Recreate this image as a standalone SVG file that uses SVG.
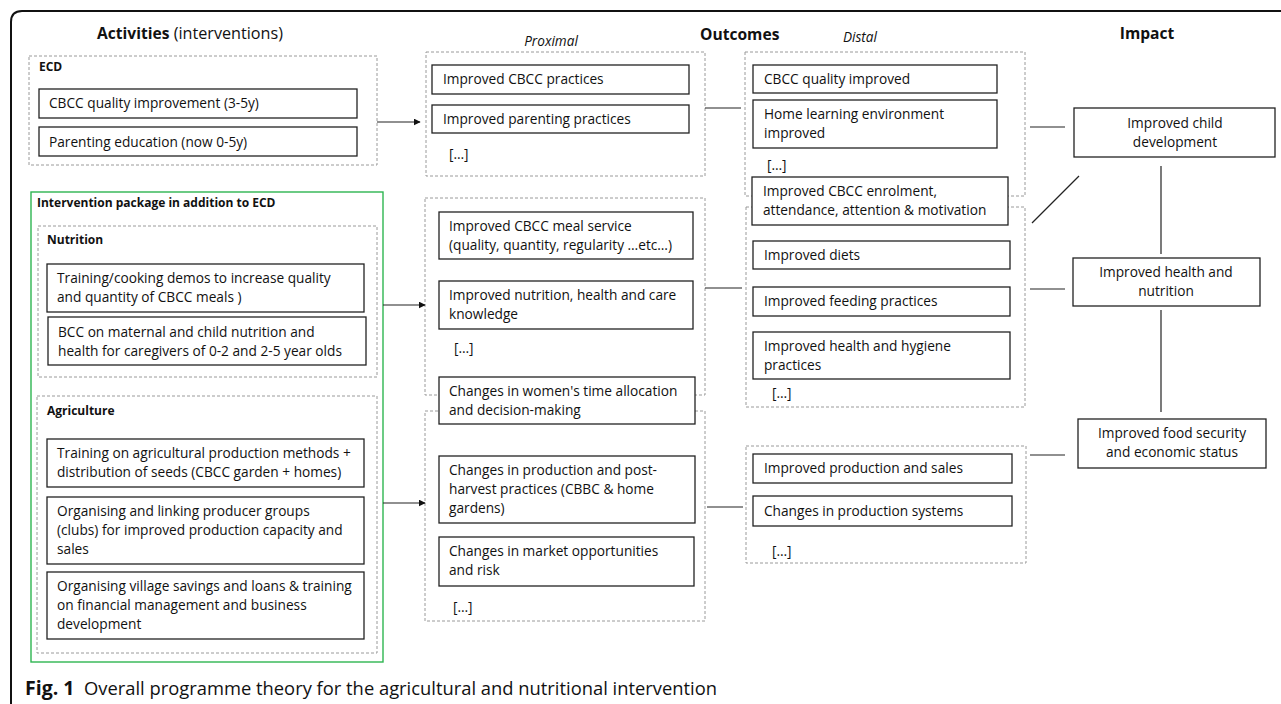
<svg xmlns="http://www.w3.org/2000/svg" width="1281" height="704" viewBox="0 0 1281 704">
<style>
text{font-family:"Open Sans","Liberation Sans",sans-serif;fill:#111}
.t{font-size:13.7px}
.lb{font-size:12px;font-weight:bold}
.hd{font-size:15.6px;font-weight:bold}
.it{font-size:13.6px;font-style:italic}
.box{fill:#fff;stroke:#222;stroke-width:1.3}
.grp{fill:none;stroke:#9a9a9a;stroke-width:1;stroke-dasharray:3 2}
.ln{stroke:#222;stroke-width:1.2;fill:none}
.c{text-anchor:middle}
</style>
<defs>
<marker id="ah" viewBox="0 0 10 10" refX="9" refY="5" markerWidth="7" markerHeight="7" markerUnits="userSpaceOnUse" orient="auto">
<path d="M0,0 L10,5 L0,10 z" fill="#111"/>
</marker>
</defs>
<rect width="1281" height="704" fill="#fff"/>
<path d="M11,704 V22 Q11,11 22,11 H1281" fill="none" stroke="#111" stroke-width="2"/>

<g id="headers">
<text x="97" y="39" class="hd">Activities<tspan font-weight="normal" font-size="16.2px"> (interventions)</tspan></text>
<text x="551" y="46" class="it c">Proximal</text>
<text x="700" y="40" class="hd">Outcomes</text>
<text x="860" y="42" class="it c">Distal</text>
<text x="1147" y="39" class="hd c">Impact</text>
</g>

<g id="ecd">
<rect x="29" y="56" width="348" height="109" class="grp"/>
<text x="39" y="71" class="lb">ECD</text>
<rect x="39" y="89" width="318" height="29" class="box"/>
<text x="49" y="108" class="t">CBCC quality improvement (3-5y)</text>
<rect x="39" y="127" width="318" height="29" class="box"/>
<text x="49" y="147" class="t">Parenting education (now 0-5y)</text>
</g>

<g id="package">
<rect x="31" y="192" width="352" height="470" fill="none" stroke="#2eb551" stroke-width="1.4"/>
<text x="37" y="207" class="lb">Intervention package in addition to ECD</text>
</g>

<g id="nutrition">
<rect x="38" y="226" width="339" height="151" class="grp"/>
<text x="47" y="244" class="lb">Nutrition</text>
<rect x="47" y="264" width="317" height="48" class="box"/>
<text x="57" y="283" class="t">Training/cooking demos to increase quality</text>
<text x="57" y="302" class="t">and quantity of CBCC meals )</text>
<rect x="48" y="317" width="318" height="48" class="box"/>
<text x="58" y="337" class="t">BCC on maternal and child nutrition and</text>
<text x="58" y="356" class="t">health for caregivers of 0-2 and 2-5 year olds</text>
</g>

<g id="agriculture">
<rect x="37" y="396" width="340" height="257" class="grp"/>
<text x="47" y="415" class="lb">Agriculture</text>
<rect x="47" y="439" width="317" height="48" class="box"/>
<text x="57" y="458" class="t">Training on agricultural production methods +</text>
<text x="57" y="477" class="t">distribution of seeds (CBCC garden + homes)</text>
<rect x="47" y="497" width="317" height="67" class="box"/>
<text x="57" y="516" class="t">Organising and linking producer groups</text>
<text x="57" y="535" class="t">(clubs) for improved production capacity and</text>
<text x="57" y="554" class="t">sales</text>
<rect x="47" y="572" width="317" height="67" class="box"/>
<text x="57" y="591" class="t">Organising village savings and loans &amp; training</text>
<text x="57" y="610" class="t">on financial management and business</text>
<text x="57" y="629" class="t">development</text>
</g>

<g id="proximal-ecd">
<rect x="426" y="52" width="279" height="124" class="grp"/>
<rect x="432" y="65" width="257" height="29" class="box"/>
<text x="443" y="84" class="t">Improved CBCC practices</text>
<rect x="432" y="105" width="257" height="28" class="box"/>
<text x="443" y="124" class="t">Improved parenting practices</text>
<text x="449" y="159" class="t">[…]</text>
</g>

<g id="proximal-nutrition">
<rect x="425" y="198" width="280" height="197" class="grp"/>
<rect x="439" y="212" width="254" height="47" class="box"/>
<text x="449" y="231" class="t">Improved CBCC meal service</text>
<text x="449" y="250" class="t">(quality, quantity, regularity …etc…)</text>
<rect x="439" y="281" width="254" height="48" class="box"/>
<text x="449" y="300" class="t">Improved nutrition, health and care</text>
<text x="449" y="319" class="t">knowledge</text>
<text x="454" y="353" class="t">[…]</text>
</g>

<g id="proximal-agriculture">
<rect x="425" y="411" width="280" height="210" class="grp"/>
<rect x="439" y="456" width="256" height="67" class="box"/>
<text x="449" y="475" class="t">Changes in production and post-</text>
<text x="449" y="494" class="t">harvest practices (CBBC &amp; home</text>
<text x="449" y="513" class="t">gardens)</text>
<rect x="439" y="537" width="255" height="49" class="box"/>
<text x="449" y="556" class="t">Changes in market opportunities</text>
<text x="449" y="575" class="t">and risk</text>
<text x="453" y="612" class="t">[…]</text>
</g>

<g id="proximal-women">
<rect x="439" y="377" width="256" height="47" class="box"/>
<text x="449" y="396" class="t">Changes in women's time allocation</text>
<text x="449" y="415" class="t">and decision-making</text>
</g>

<g id="distal-ecd">
<rect x="745" y="52" width="280" height="144" class="grp"/>
<rect x="753" y="65" width="244" height="28" class="box"/>
<text x="764" y="84" class="t">CBCC quality improved</text>
<rect x="753" y="100" width="244" height="48" class="box"/>
<text x="764" y="119" class="t">Home learning environment</text>
<text x="764" y="138" class="t">improved</text>
<text x="767" y="170" class="t">[…]</text>
</g>

<g id="distal-nutrition">
<rect x="746" y="207" width="279" height="200" class="grp"/>
<rect x="753" y="241" width="257" height="28" class="box"/>
<text x="764" y="260" class="t">Improved diets</text>
<rect x="753" y="287" width="257" height="29" class="box"/>
<text x="764" y="306" class="t">Improved feeding practices</text>
<rect x="753" y="332" width="257" height="47" class="box"/>
<text x="764" y="351" class="t">Improved health and hygiene</text>
<text x="764" y="370" class="t">practices</text>
<text x="772" y="398" class="t">[…]</text>
</g>

<g id="distal-enrolment">
<rect x="752" y="177" width="256" height="48" class="box"/>
<text x="763" y="196" class="t">Improved CBCC enrolment,</text>
<text x="763" y="215" class="t">attendance, attention &amp; motivation</text>
</g>

<g id="distal-agriculture">
<rect x="746" y="446" width="280" height="117" class="grp"/>
<rect x="753" y="454" width="259" height="29" class="box"/>
<text x="764" y="473" class="t">Improved production and sales</text>
<rect x="753" y="496" width="259" height="30" class="box"/>
<text x="764" y="516" class="t">Changes in production systems</text>
<text x="772" y="556" class="t">[…]</text>
</g>

<g id="impact-child">
<rect x="1074" y="108" width="201" height="49" class="box"/>
<text x="1175" y="128" class="t c">Improved child</text>
<text x="1175" y="147" class="t c">development</text>
</g>

<g id="impact-health">
<rect x="1073" y="258" width="187" height="48" class="box"/>
<text x="1166" y="277" class="t c">Improved health and</text>
<text x="1166" y="296" class="t c">nutrition</text>
</g>

<g id="impact-food">
<rect x="1078" y="419" width="188" height="49" class="box"/>
<text x="1172" y="438" class="t c">Improved food security</text>
<text x="1172" y="457" class="t c">and economic status</text>
</g>

<g id="connectors">
<line x1="377" y1="122" x2="420" y2="122" class="ln" marker-end="url(#ah)"/>
<line x1="383" y1="305" x2="425" y2="305" class="ln" marker-end="url(#ah)"/>
<line x1="383" y1="503" x2="425" y2="503" class="ln" marker-end="url(#ah)"/>
<line x1="705" y1="108" x2="741" y2="108" class="ln"/>
<line x1="705" y1="288" x2="742" y2="288" class="ln"/>
<line x1="707" y1="507" x2="743" y2="507" class="ln"/>
<line x1="1030" y1="127" x2="1065" y2="127" class="ln"/>
<line x1="1030" y1="289" x2="1065" y2="289" class="ln"/>
<line x1="1030" y1="455" x2="1065" y2="455" class="ln"/>
<line x1="1032" y1="223" x2="1079" y2="176" class="ln"/>
<line x1="1161" y1="166" x2="1161" y2="254" class="ln"/>
<line x1="1161" y1="310" x2="1161" y2="412" class="ln"/>
</g>

<g id="caption">
<text x="25" y="695" font-size="19.5" font-weight="bold" fill="#222">Fig. 1</text>
<text x="84" y="695" font-size="19" fill="#333" textLength="633" lengthAdjust="spacingAndGlyphs">Overall programme theory for the agricultural and nutritional intervention</text>
</g>
</svg>
